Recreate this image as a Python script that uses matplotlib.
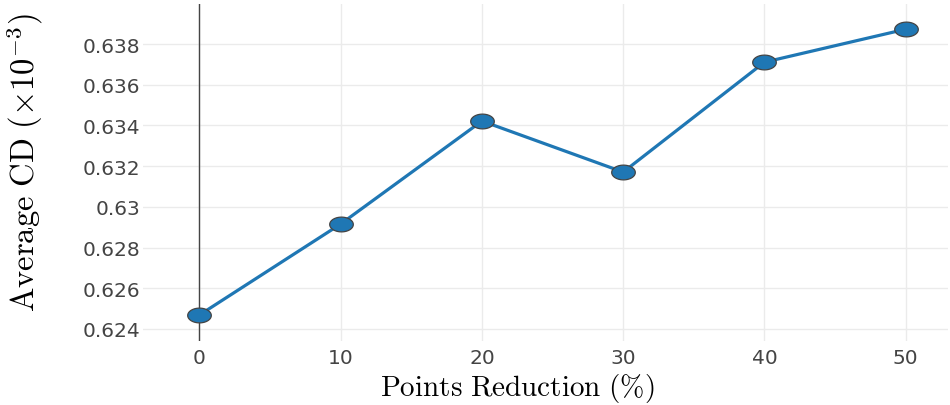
import matplotlib
matplotlib.use("Agg")
import matplotlib.pyplot as plt
from matplotlib.path import Path
import numpy as np

# Average Chamfer distance vs. percentage of points removed
reduction = [0, 10, 20, 30, 40, 50]
avg_cd = [0.62469, 0.62916, 0.63422, 0.63171, 0.63711, 0.63873]

x_ticks = [0, 10, 20, 30, 40, 50]
x_tick_labels = ["0", "10", "20", "30", "40", "50"]
y_ticks = [0.624, 0.626, 0.628, 0.630, 0.632, 0.634, 0.636, 0.638]
y_tick_labels = ["0.624", "0.626", "0.628", "0.63", "0.632", "0.634", "0.636", "0.638"]

plt.rcParams["mathtext.fontset"] = "cm"

W, H = 950, 406
fig = plt.figure(figsize=(W / 100, H / 100), dpi=100)
ax = fig.add_axes([143 / W, 1 - 342 / H, 805 / W, 337 / H])

# wide oval marker
t = np.linspace(0, 2 * np.pi, 60)
oval = Path(np.column_stack([1.6 * np.cos(t), np.sin(t)]), closed=True)

ax.axvline(0, color="#444444", lw=1.0, zorder=1)
ax.plot(reduction, avg_cd, color="#1f77b4", lw=2.3, marker=oval, ms=17,
        markerfacecolor="#1f77b4", markeredgecolor="#444444", markeredgewidth=0.9,
        zorder=3, clip_on=False)

ax.set_xlim(-4, 53)
ax.set_ylim(0.62341, 0.63997)
ax.set_xticks(x_ticks)
ax.set_xticklabels(x_tick_labels)
ax.set_yticks(y_ticks)
ax.set_yticklabels(y_tick_labels)

for s in ax.spines.values():
    s.set_visible(False)
ax.grid(True, color="#ebebeb", lw=1.0)
ax.set_axisbelow(True)
ax.tick_params(axis="both", length=0, labelcolor="#444444", labelsize=14.5)
ax.tick_params(axis="x", pad=5)
ax.tick_params(axis="y", pad=2)
for lab in ax.get_xticklabels() + ax.get_yticklabels():
    lab.set_family("DejaVu Sans")

fig.text(517 / W, 1 - 389 / H, r"$\mathrm{Points\ Reduction\ (\%)}$",
         fontsize=21, ha="center", va="center")
fig.text(25 / W, 1 - 163 / H, r"$\mathrm{Average\ CD}\ (\times 10^{-3})$",
         fontsize=23.5, ha="center", va="center", rotation=90)

fig.savefig("out.png", dpi=100, facecolor="white")
